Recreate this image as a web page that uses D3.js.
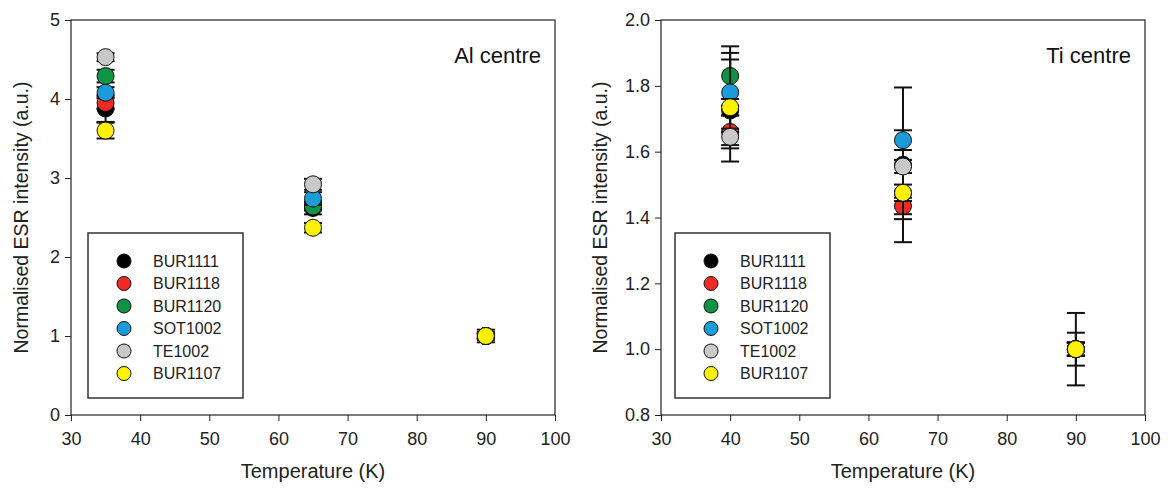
<!DOCTYPE html>
<html>
<head>
<meta charset="utf-8">
<script src="https://cdn.jsdelivr.net/npm/d3@7"></script>
<style>
  body { margin: 0; background: #fff; }
  svg { font-family: "Liberation Sans", Arial, sans-serif; }
</style>
</head>
<body>
<div id="graphic"></div>
<script>
// samples, one series each
const samples = ['BUR1111', 'BUR1118', 'BUR1120', 'SOT1002', 'TE1002', 'BUR1107'];
const colors = ['#000000', '#ee2a24', '#0f9445', '#1b9bd7', '#c9c9c9', '#fff200'];

// Al centre
const alTemps = [35, 65, 90];
const alMean = [
  [3.88, 2.62, 1],
  [3.95, 2.65, 1],
  [4.29, 2.64, 1],
  [4.08, 2.74, 1],
  [4.53, 2.92, 1],
  [3.60, 2.37, 1]
];
const alErr = [
  [0.17, 0.08, 0.08],
  [0.08, 0.05, 0.05],
  [0.08, 0.05, 0.03],
  [0.07, 0.08, 0.03],
  [0.05, 0.07, 0.03],
  [0.10, 0.06, 0.03]
];
const alTicks = [0, 1, 2, 3, 4, 5];

// Ti centre
const tiTemps = [40, 65, 90];
const tiMean = [
  [1.725, 1.56, 1],
  [1.66, 1.435, 1],
  [1.83, 1.475, 1],
  [1.78, 1.635, 1],
  [1.645, 1.555, 1],
  [1.735, 1.475, 1]
];
const tiErr = [
  [0.155, 0.235, 0.11],
  [0.05, 0.025, 0.05],
  [0.09, 0.08, 0.02],
  [0.12, 0.03, 0.02],
  [0.025, 0.02, 0.02],
  [0.025, 0.025, 0.02]
];
const tiTicks = [0.8, 1.0, 1.2, 1.4, 1.6, 1.8, 2.0];

const xTicks = [30, 40, 50, 60, 70, 80, 90, 100];

const width = 1168, height = 496;
const plotTop = 20, plotBottom = 415;

const svg = d3.select("#graphic").append("svg")
  .attr("width", width)
  .attr("height", height);

function panel(opts) {
  const x = d3.scaleLinear().domain([30, 100]).range([opts.left, opts.right]);
  const y = d3.scaleLinear().domain(opts.yDomain).range([plotBottom, plotTop]);
  const g = svg.append("g");

  g.append("g")
    .attr("transform", `translate(0,${plotBottom})`)
    .call(d3.axisBottom(x).tickValues(xTicks).tickSize(6).tickSizeOuter(0).tickPadding(11))
    .call(a => a.selectAll("text").attr("font-size", 18).attr("fill", "#222"));

  g.append("g")
    .attr("transform", `translate(${opts.left},0)`)
    .call(d3.axisLeft(y).tickValues(opts.yTicks).tickFormat(opts.fmt).tickSize(6).tickSizeOuter(0).tickPadding(5))
    .call(a => a.selectAll("text").attr("font-size", 18).attr("fill", "#222"));

  g.selectAll(".domain").remove();
  g.selectAll(".tick line").attr("stroke", "#222");

  g.append("rect")
    .attr("x", opts.left).attr("y", plotTop)
    .attr("width", opts.right - opts.left).attr("height", plotBottom - plotTop)
    .attr("fill", "none").attr("stroke", "#222").attr("stroke-width", 1.2);

  // series: error bars then marker
  samples.forEach((s, i) => {
    const pts = opts.temps.map((t, j) => ({t: t, v: opts.mean[i][j], e: opts.err[i][j]}));
    const sg = g.append("g");
    const eb = sg.selectAll("g.eb").data(pts).join("g").attr("class", "eb")
      .attr("stroke", "#111").attr("stroke-width", 2);
    eb.append("line")
      .attr("x1", d => x(d.t)).attr("x2", d => x(d.t))
      .attr("y1", d => y(d.v - d.e)).attr("y2", d => y(d.v + d.e));
    eb.append("line")
      .attr("x1", d => x(d.t) - 9).attr("x2", d => x(d.t) + 9)
      .attr("y1", d => y(d.v + d.e)).attr("y2", d => y(d.v + d.e));
    eb.append("line")
      .attr("x1", d => x(d.t) - 9).attr("x2", d => x(d.t) + 9)
      .attr("y1", d => y(d.v - d.e)).attr("y2", d => y(d.v - d.e));
    sg.selectAll("circle").data(pts).join("circle")
      .attr("cx", d => x(d.t)).attr("cy", d => y(d.v))
      .attr("r", 8.5)
      .attr("fill", colors[i])
      .attr("stroke", "#111").attr("stroke-width", 1);
  });

  g.append("text")
    .attr("x", opts.right - 14).attr("y", 63)
    .attr("text-anchor", "end")
    .attr("font-size", 22).attr("fill", "#111")
    .text(opts.title);

  g.append("text")
    .attr("x", (opts.left + opts.right) / 2).attr("y", 478)
    .attr("text-anchor", "middle")
    .attr("font-size", 20).attr("fill", "#222")
    .text("Temperature (K)");

  g.append("text")
    .attr("transform", `translate(${opts.yLabelX},${(plotTop + plotBottom) / 2}) rotate(-90)`)
    .attr("text-anchor", "middle")
    .attr("dy", "0.35em")
    .attr("font-size", 19.5).attr("fill", "#222")
    .text("Normalised ESR intensity (a.u.)");

  // legend
  const lg = g.append("g");
  lg.append("rect")
    .attr("x", opts.legX).attr("y", 233)
    .attr("width", 155).attr("height", 165)
    .attr("fill", "#fff").attr("stroke", "#333").attr("stroke-width", 1.5);
  samples.forEach((s, i) => {
    const yy = 261 + i * 22.5;
    lg.append("circle")
      .attr("cx", opts.legX + 36).attr("cy", yy).attr("r", 7)
      .attr("fill", colors[i]).attr("stroke", "#111").attr("stroke-width", 1);
    lg.append("text")
      .attr("x", opts.legX + 65).attr("y", yy).attr("dy", "0.36em")
      .attr("font-size", 16).attr("fill", "#222")
      .text(s);
  });
}

panel({
  left: 71, right: 555, yDomain: [0, 5], yTicks: alTicks, fmt: d3.format("d"),
  temps: alTemps, mean: alMean, err: alErr, title: "Al centre",
  yLabelX: 21, legX: 88
});

panel({
  left: 661, right: 1145, yDomain: [0.8, 2.0], yTicks: tiTicks, fmt: d3.format(".1f"),
  temps: tiTemps, mean: tiMean, err: tiErr, title: "Ti centre",
  yLabelX: 600, legX: 675
});
</script>
</body>
</html>
